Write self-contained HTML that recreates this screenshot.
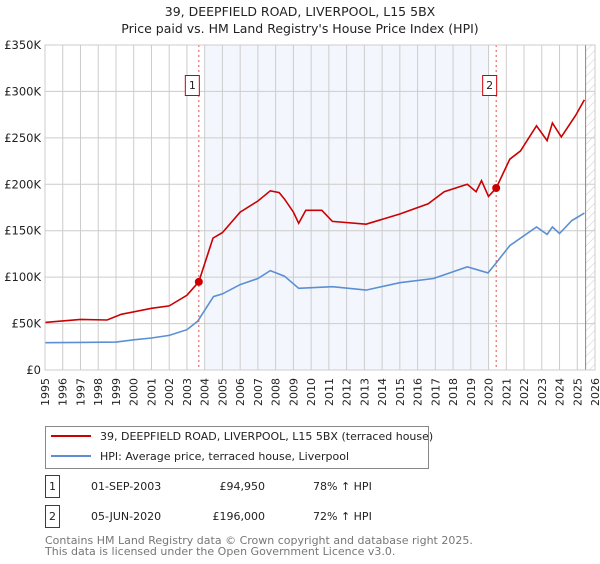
<!DOCTYPE html>
<html><head><meta charset="utf-8"><style>
body{margin:0;background:#fff;font-family:"DejaVu Sans","Liberation Sans",sans-serif;}
svg text{font-family:"DejaVu Sans","Liberation Sans",sans-serif;}
</style></head><body>
<svg id="c" width="600" height="560" xmlns="http://www.w3.org/2000/svg">
<defs><pattern id="hatch" width="6" height="6" patternUnits="userSpaceOnUse" patternTransform="rotate(45)"><line x1="0" y1="0" x2="0" y2="6" stroke="#ccc" stroke-width="1"/></pattern></defs>
<text x="300" y="16" text-anchor="middle" font-size="12.5" fill="#222">39, DEEPFIELD ROAD, LIVERPOOL, L15 5BX</text>
<text x="300" y="33" text-anchor="middle" font-size="12.5" fill="#222">Price paid vs. HM Land Registry's House Price Index (HPI)</text>
<g id="plot"></g>
<g>
<rect x="45.5" y="426.5" width="383" height="42" fill="#fff" stroke="#888"/>
<line x1="51" y1="436" x2="91" y2="436" stroke="#cc0000" stroke-width="2"/>
<text x="100" y="440" font-size="11" fill="#222">39, DEEPFIELD ROAD, LIVERPOOL, L15 5BX (terraced house)</text>
<line x1="51" y1="456" x2="91" y2="456" stroke="#5b8fd4" stroke-width="2"/>
<text x="100" y="460" font-size="11" fill="#222">HPI: Average price, terraced house, Liverpool</text>
</g>
<g font-size="11" fill="#222">
<rect x="45.5" y="475.5" width="14" height="22" fill="#fff" stroke="#cc0000"/>
<text x="52.5" y="490" text-anchor="middle">1</text>
<text x="91" y="490">01-SEP-2003</text>
<text x="265" y="490" text-anchor="end">£94,950</text>
<text x="313" y="490">78% ↑ HPI</text>
<rect x="45.5" y="505.5" width="14" height="22" fill="#fff" stroke="#cc0000"/>
<text x="52.5" y="520" text-anchor="middle">2</text>
<text x="91" y="520">05-JUN-2020</text>
<text x="265" y="520" text-anchor="end">£196,000</text>
<text x="313" y="520">72% ↑ HPI</text>
</g>
<text x="45" y="544" font-size="11" fill="#777">Contains HM Land Registry data © Crown copyright and database right 2025.</text>
<text x="45" y="555" font-size="11" fill="#777">This data is licensed under the Open Government Licence v3.0.</text>
</svg>
<script>
const hpiYears=[1995,1997,1999,2000,2001,2002,2003,2003.6,2004.5,2005,2006,2007,2007.7,2008.5,2009.3,2011.2,2013.1,2015,2016.9,2018.8,2019.97,2020.4,2021.2,2022.7,2023.3,2023.6,2024.0,2024.7,2025.4];
const hpiValues=[29.4,29.7,30,32.5,34.5,37.3,43.4,52.4,79,82,92,98.5,107,101,88,89.7,86,94,98.5,111,104.6,114.6,134,154,146,154,147,161,169];
const propYears=[1995,1997,1998.5,1999.3,2001,2002,2003,2003.67,2004.47,2005,2006,2007,2007.7,2008.2,2008.5,2009,2009.3,2009.7,2010.6,2011.2,2013.1,2015,2016.6,2017.5,2018.8,2019.3,2019.6,2020.0,2020.43,2021.2,2021.8,2022.7,2023.3,2023.6,2024.1,2024.9,2025.4];
const propValues=[51.3,54.5,53.8,60,66.4,69,80.5,94.95,142,148,170,182,193,191,184,170,158,172,172,160,157,168,179,192,200,192,204,187,196,227,236,263,247,266,251,274,291];
const sales=[{n:"1",year:2003.67,value:94.95},{n:"2",year:2020.43,value:196}];
const yTicks=[0,50,100,150,200,250,300,350];
const yTickLabels=["£0","£50K","£100K","£150K","£200K","£250K","£300K","£350K"];
const xTicks=[];for(let y=1995;y<=2026;y++)xTicks.push(y);
const X0=45,X1=595,Y0=370,Y1=45;
const sx=y=>X0+(y-1995)/(2026-1995)*(X1-X0);
const sy=v=>Y0-v/350*(Y0-Y1);
const NS="http://www.w3.org/2000/svg";
const g=document.getElementById('plot');
function mk(t,a){const e=document.createElementNS(NS,t);for(const k in a)e.setAttribute(k,a[k]);g.appendChild(e);return e;}
let e=mk('rect',{x:sx(2004),y:Y1,width:sx(2020)-sx(2004),height:Y0-Y1,fill:'#eef3fc',opacity:0.7});


e=mk('rect',{x:sx(2025.47),y:Y1,width:X1-sx(2025.47),height:Y0-Y1,fill:'url(#hatch)'});


xTicks.forEach(y=>{
 let l=mk('line',{x1:sx(y),x2:sx(y),y1:Y1,y2:Y0,stroke:'#ccc'});
 
 
 let t=mk('text',{x:0,y:0,'font-size':11,fill:'#222','text-anchor':'end',transform:`translate(${sx(y)+4},${Y0+8}) rotate(-90)`});
 t.textContent=y;
 
 
});
yTicks.forEach((v,i)=>{
 let l=mk('line',{x1:X0,x2:X1,y1:sy(v),y2:sy(v),stroke:'#ccc'});
 
 
 let t=mk('text',{x:X0-4,y:sy(v)+4,'font-size':11.5,fill:'#222','text-anchor':'end'});
 t.textContent=yTickLabels[i];
 
 
});
e=mk('line',{x1:sx(2025.47),x2:sx(2025.47),y1:Y1,y2:Y0,stroke:'#888'});


function path(xs,vs,col,name){
 const d=xs.map((x,i)=>(i?'L':'M')+sx(x).toFixed(1)+','+sy(vs[i]).toFixed(1)).join('');
 const p=mk('path',{d:d,fill:'none',stroke:col,'stroke-width':1.6});
 
 
}
path(hpiYears,hpiValues,'#5b8fd4','hpi-line');
path(propYears,propValues,'#cc0000','property-line');
sales.forEach(s=>{
 let l=mk('line',{x1:sx(s.year),x2:sx(s.year),y1:Y1,y2:Y0,stroke:'#e05050','stroke-dasharray':'2,3'});
 
 
 let c=mk('circle',{cx:sx(s.year),cy:sy(s.value),r:4,fill:'#cc0000'});
 
 
 let r=mk('rect',{x:sx(s.year)-13.5,y:75.5,width:14,height:20,fill:'#fff',stroke:'#cc0000'});
 
 
 let t=mk('text',{x:sx(s.year)-6.5,y:89,'font-size':11,fill:'#222','text-anchor':'middle'});
 t.textContent=s.n;
 
 
});
e=mk('rect',{x:X0,y:Y1,width:X1-X0,height:Y0-Y1,fill:'none',stroke:'#ccc'});


</script>
</body></html>
